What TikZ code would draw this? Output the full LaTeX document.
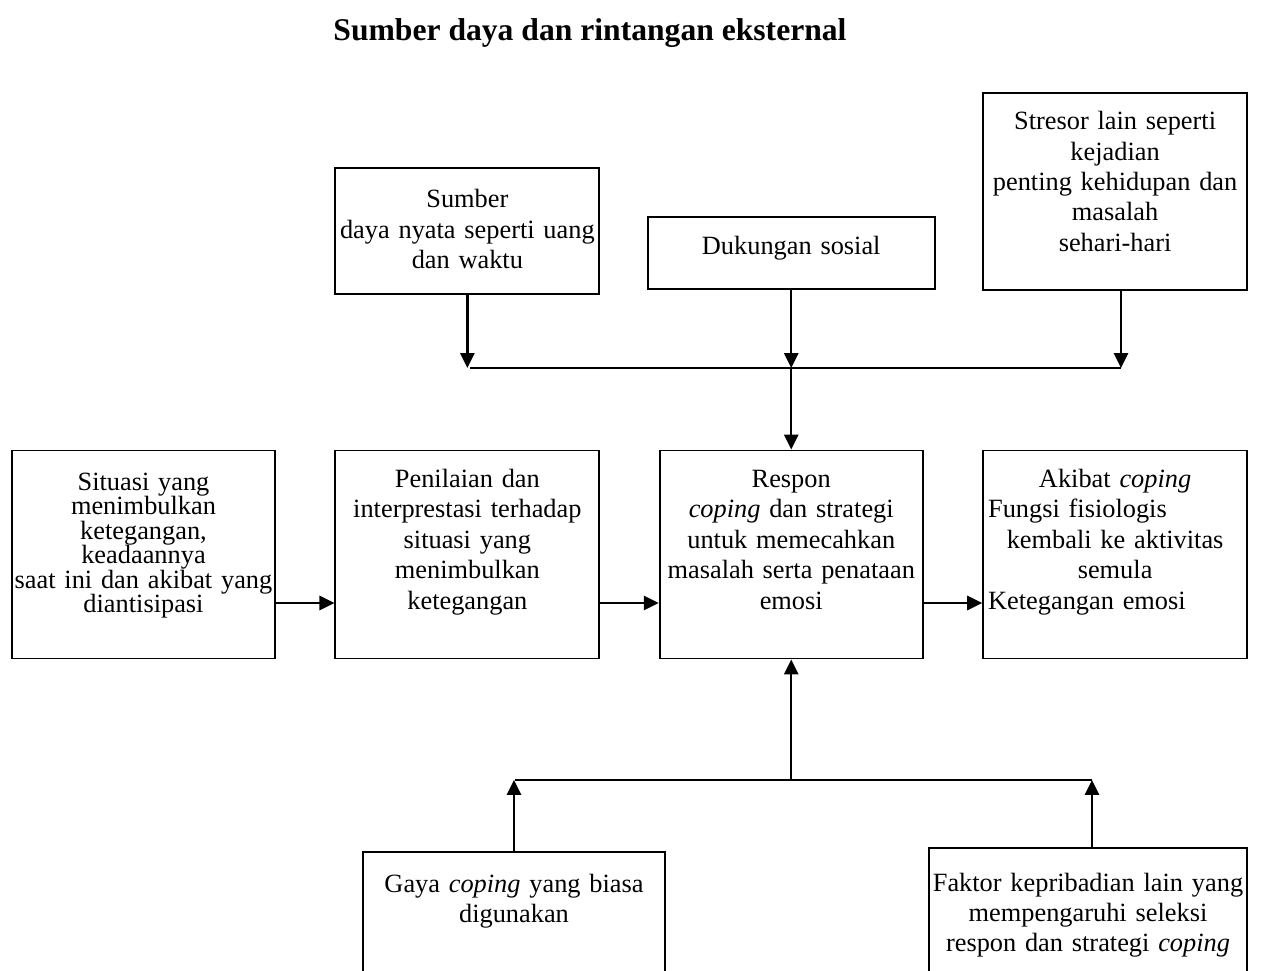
\documentclass[tikz,border=0pt]{standalone}
\usepackage{fontspec}
\setmainfont{Liberation Serif}
\usetikzlibrary{arrows.meta,positioning,calc}

\tikzset{
  box/.style={draw, line width=1.1pt, inner sep=0pt},
  txt/.style={anchor=base, align=center, inner sep=0pt, text width=7.2cm},
  arr/.style={line width=1.4pt, -{Triangle[width=8pt,length=8.5pt]}},
  lin/.style={line width=1.4pt}
}

\begin{document}
\begin{tikzpicture}[x=0.02cm, y=-0.02cm, font=\fontsize{15pt}{17.3pt}\selectfont]
  \useasboundingbox (0,0) rectangle (1264,970);
  \clip (0,0) rectangle (1264,970);
  % Title
  \path (590,40) node[anchor=base, font=\bfseries\fontsize{18pt}{21pt}\selectfont] (judul) {Sumber daya dan rintangan eksternal};
  % Define the boxes of the middle row
  \path (143.5,554.5) node[box, minimum width=5.26cm, minimum height=4.16cm] (sit) {};
  \node[box, minimum width=5.28cm, minimum height=4.16cm, right=1.17cm of sit] (nil) {};
  \node[box, minimum width=5.26cm, minimum height=4.16cm, right=1.17cm of nil] (res) {};
  \node[box, minimum width=5.28cm, minimum height=4.16cm, right=1.17cm of res] (aki) {};
  % Define the boxes above and below
  \node[box, minimum width=5.28cm, minimum height=2.52cm, above=3.1cm of nil] (sda) {};
  \node[box, minimum width=5.74cm, minimum height=1.44cm, above=3.2cm of res] (duk) {};
  \node[box, minimum width=5.28cm, minimum height=3.94cm, above=3.18cm of aki] (str) {};
  \path (514,921) node[box, minimum width=6.04cm, minimum height=2.76cm] (gay) {};
  \path (1088,919) node[box, minimum width=6.36cm, minimum height=2.84cm] (fak) {};
  % Texts in the boxes
  \path (sda.north) ++(0,41) node[txt] (sda-t) {Sumber\\daya nyata seperti uang\\dan waktu};
  \path (duk.north) ++(0,39) node[txt] (duk-t) {Dukungan sosial};
  \path (str.north) ++(0,38) node[txt] (str-t) {Stresor lain seperti\\kejadian\\penting kehidupan dan\\masalah\\sehari-hari};
  \path (sit.north) ++(0,41) node[txt, font=\fontsize{15pt}{13.9pt}\selectfont] (sit-t) {Situasi yang\\menimbulkan\\ketegangan,\\keadaannya\\saat ini dan akibat yang\\diantisipasi};
  \path (nil.north) ++(0,38) node[txt] (nil-t) {Penilaian dan\\interprestasi terhadap\\situasi yang\\menimbulkan\\ketegangan};
  \path (res.north) ++(0,38) node[txt] (res-t) {Respon\\\textit{coping} dan strategi\\untuk memecahkan\\masalah serta penataan\\emosi};
  \path (aki.north) ++(0,38) node[txt, text width=5.08cm] (aki-t) {Akibat \textit{coping}\\\makebox[\linewidth][l]{Fungsi fisiologis}\\kembali ke aktivitas\\semula\\\makebox[\linewidth][l]{Ketegangan emosi}};
  \path (gay.north) ++(0,41) node[txt] (gay-t) {Gaya \textit{coping} yang biasa\\digunakan};
  \path (fak.north) ++(0,44) node[txt] (fak-t) {Faktor kepribadian lain yang\\mempengaruhi seleksi\\respon dan strategi \textit{coping}};
  % Junction points
  \coordinate (jt-l) at (470,368);
  \coordinate (jt-r) at (1121,368);
  \coordinate (jb-l) at (515,780);
  \coordinate (jb-r) at (1092,780);
  % Draw the connectors
  \draw[arr] (sda.south) -- (sda.south |- jt-l);
  \draw[arr] (duk.south) -- (duk.south |- jt-l);
  \draw[arr] (jt-r |- str.south) -- (jt-r);
  \draw[lin] (jt-l) -- (jt-r);
  \draw[arr] (res.north |- jt-l) -- (res.north);
  \draw[arr] ([yshift=-0.97cm]sit.east) -- ([yshift=-0.97cm]nil.west);
  \draw[arr] ([yshift=-0.97cm]nil.east) -- ([yshift=-0.97cm]res.west);
  \draw[arr] ([yshift=-0.97cm]res.east) -- ([yshift=-0.97cm]aki.west);
  \draw[arr] (gay.north) -- (gay.north |- jb-l);
  \draw[arr] (jb-r |- fak.north) -- (jb-r);
  \draw[lin] (jb-l) -- (jb-r);
  \draw[arr] (res.south |- jb-l) -- (res.south);
\end{tikzpicture}
\end{document}
